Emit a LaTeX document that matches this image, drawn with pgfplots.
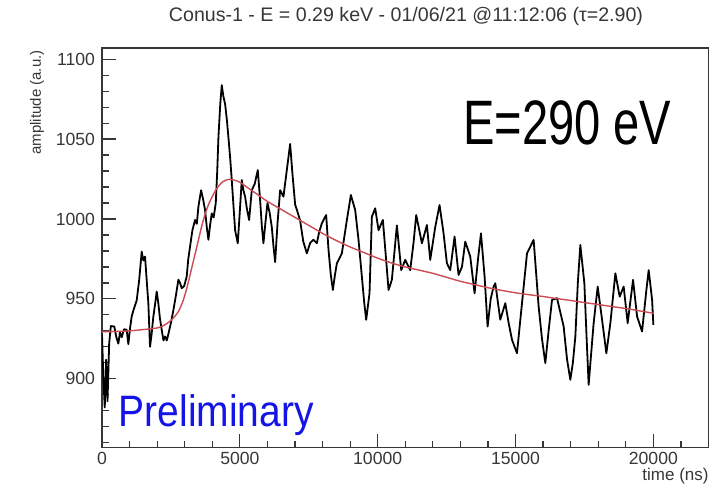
\documentclass[border=0pt]{standalone}
\usepackage{fontspec}
\setmainfont{Liberation Sans}
\usepackage{graphicx}
\usepackage{pgfplots}
\pgfplotsset{compat=1.18}
\definecolor{fitred}{RGB}{205,75,85}
\definecolor{prelblue}{RGB}{20,20,230}
\definecolor{axgray}{RGB}{55,55,55}

\begin{document}
\begin{tikzpicture}[x=1pt,y=1pt]
\begin{axis}[
  scale only axis,
  width=303.25pt, height=199.75pt,
  xmin=0, xmax=22000, ymin=857, ymax=1107,
  xtick={0,5000,10000,15000,20000},
  minor xtick={1000,2000,...,22000},
  ytick={900,950,1000,1050,1100},
  minor ytick={860,870,...,1100},
  xtick pos=left, ytick pos=left, tick align=inside,
  major tick length=7pt, minor tick length=3.5pt,
  scaled x ticks=false, scaled y ticks=false,
  /pgf/number format/1000 sep={},
  /pgf/number format/assume math mode=true,
  ticklabel style={font=\fontsize{8.8}{10}\selectfont, text=axgray},
  xticklabel style={yshift=1.2pt},
  axis line style={axgray, line width=0.8pt},
  tick style={axgray, line width=0.6pt},
]
\coordinate (frameSW) at (rel axis cs:0,0);
% measured waveform
\addplot[black, line width=0.9pt, line join=round] coordinates {
(0,928) (50,900) (100,882) (150,912) (200,886) (260,922) (320,933)
(447,932.7) (520,926) (593,922) (650,929) (714,926) (800,931) (895,930.6)
(956,921.7) (1020,932) (1077,939) (1160,944) (1258,949) (1350,962)
(1440,979.6) (1500,974) (1561,976.5) (1620,962) (1682,947) (1742,920)
(1800,928) (1863,939) (1920,946) (1985,954.6) (2045,947) (2100,938)
(2166,930.6) (2230,924) (2287,926.5) (2350,924) (2408,928) (2500,935)
(2590,943) (2680,952) (2771,962) (2830,960) (2892,956.7) (2980,958)
(3073,964) (3130,975) (3194,982.7) (3280,993) (3376,999.4) (3440,997)
(3497,1007.7) (3594,1018) (3660,1013) (3739,1005.6) (3800,995) (3860,987)
(3920,996) (3981,1003.5) (4050,1001) (4127,1010) (4180,1030) (4224,1051.4)
(4290,1072) (4345,1083.75) (4400,1077) (4465,1072) (4530,1062) (4586,1051)
(4650,1038) (4707,1024.4) (4770,1008) (4828,993) (4925,984.8) (5000,1005)
(5070,1024.4) (5130,1018) (5191,1014) (5260,1006) (5337,999.4) (5433,1018)
(5540,1022) (5651,1030.6) (5735,1012) (5800,995) (5856,984.8) (5930,998)
(6002,1010) (6080,1004) (6159,995) (6220,983) (6280,973) (6370,998)
(6461,1018) (6582,1014) (6700,1030) (6824,1047) (6900,1030) (7006,1009)
(7100,1004) (7187,999) (7300,986) (7430,978.5) (7550,985) (7672,987)
(7793,984.8) (7880,992) (7975,997.3) (8131,1002.5) (8217,980.6) (8300,965)
(8375,955.6) (8450,965) (8520,972.3) (8701,978.5) (8800,990) (8883,999.4)
(9028,1015) (9184,1005.6) (9305,987) (9426,964) (9510,948) (9583,936.9)
(9704,953.5) (9789,1001.4) (9910,1006.7) (10031,993) (10188,999.4) (10290,978)
(10394,955.6) (10515,962) (10697,996) (10854,968) (10999,974.4) (11180,968)
(11300,985) (11398,1002.5) (11604,984.8) (11786,996.2) (11906,974.4) (12088,995)
(12244,1008.75) (12390,991) (12511,972.3) (12632,968) (12789,989) (12934,965)
(13057,970) (13177,985.8) (13358,976.5) (13515,953.5) (13640,975) (13747,991)
(13878,964) (13987,932.7) (14100,950) (14204,957.7) (14266,959.8) (14447,937)
(14629,947.3) (14750,935) (14872,924.4) (15053,916) (15235,947.3) (15417,978.5)
(15657,986.9) (15839,945.2) (15960,925) (16081,909.8) (16200,930) (16324,949.4)
(16506,950.4) (16746,932.7) (16870,912) (16988,899.4) (17080,910) (17170,926.4)
(17260,960) (17351,983.75) (17497,959.8) (17580,925) (17653,896.25) (17740,915)
(17834,934.8) (17980,957.7) (18139,937) (18295,916) (18440,934.8) (18622,966)
(18778,951.4) (18923,957.7) (19068,934.8) (19263,961.9) (19409,939) (19590,929.6)
(19747,955.6) (19830,968) (19954,949.4) (20000,933.75)
};
% fitted pulse
\addplot[fitred, line width=0.7pt, smooth] coordinates {
(0,929.5) (500,929.6) (1000,930) (1500,930.8) (2000,931.8) (2250,933.5)
(2500,936.5) (2750,941.5) (2900,947) (3000,952) (3125,960) (3250,969)
(3375,978) (3500,987) (3625,996) (3750,1003.5) (3875,1009.5) (4000,1014)
(4125,1018) (4250,1021) (4400,1023.5) (4600,1024.8) (4800,1024.3) (5000,1023)
(5250,1020) (5500,1017) (5750,1014) (6000,1011) (6500,1006) (7000,1001)
(7500,996) (8000,991) (8500,986.5) (9000,982.5) (9500,979) (10000,975.5)
(10500,972.5) (11000,970) (11500,968) (12000,966) (12500,963.5) (13000,961)
(13500,959) (14000,957) (14500,955.3) (15000,953.8) (15500,952.6) (16000,951.5)
(16500,950.2) (17000,949) (17500,947.7) (18000,946.5) (18500,945.2) (19000,944)
(19500,942.5) (20000,941)
};
\end{axis}

% page coordinates: origin at the lower-left corner of the picture
\begin{scope}[shift={(frameSW)}, xshift=-51pt, yshift=-17.75pt]
\node[font=\fontsize{9.8}{11}\selectfont, text=axgray] at (203,233.5)
  {Conus-1 - E = 0.29 keV - 01/06/21 @11:12:06 (τ=2.90)};
\node[rotate=90, anchor=east, inner sep=0, font=\fontsize{7.5}{9}\selectfont, text=axgray]
  at (18.5,216.5) {amplitude (a.u.)};
\node[anchor=east, inner sep=0, font=\fontsize{8.5}{10}\selectfont, text=axgray]
  at (354.5,3.6) {time (ns)};
\node[anchor=base west, inner sep=0, font=\fontsize{31.4}{36}\selectfont]
  at (231.4,169) {\scalebox{0.75}[1]{E=290 eV}};
\node[anchor=base west, inner sep=0, text=prelblue, font=\fontsize{22}{26}\selectfont]
  at (59.15,28.15) {\scalebox{0.886}[1]{Preliminary}};
\pgfresetboundingbox
\path[use as bounding box] (0,0) rectangle (361.5,241.5);
\end{scope}
\end{tikzpicture}
\end{document}
